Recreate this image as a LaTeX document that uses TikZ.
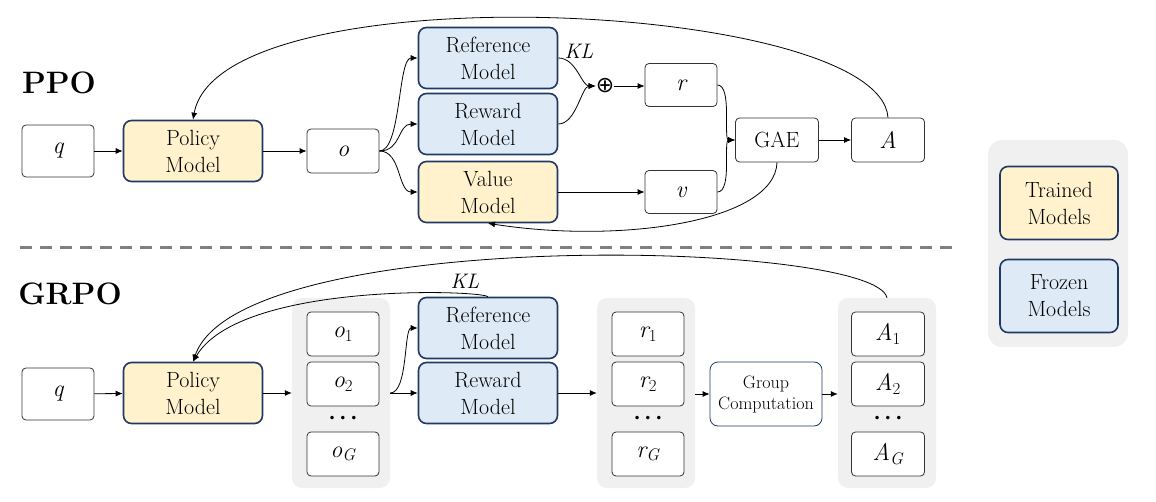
\documentclass[tikz,border=0pt]{standalone}
\usepackage{fontspec}
\newfontfamily\symfnt{DejaVu Sans}
\usetikzlibrary{arrows.meta}
\definecolor{trainedfill}{HTML}{FFF2CC}
\definecolor{frozenfill}{HTML}{DEEAF6}
\definecolor{modelborder}{HTML}{1F3864}
\definecolor{groupfill}{HTML}{F0F0F0}
\definecolor{dashgray}{HTML}{808080}
\definecolor{boxborder}{HTML}{333333}
\tikzset{
  plainbox/.style={draw=boxborder, fill=white, rounded corners=4pt, line width=0.8pt,
    minimum width=72pt, minimum height=44pt, inner sep=0pt, font=\fontsize{24}{28}\selectfont\itshape},
  modelbox/.style={draw=modelborder, line width=1.6pt, rounded corners=8pt,
    minimum width=139pt, minimum height=61pt, inner sep=0pt, align=center, font=\fontsize{22}{27}\selectfont},
  trained/.style={modelbox, fill=trainedfill},
  frozen/.style={modelbox, fill=frozenfill},
  grpbox/.style={fill=groupfill, rounded corners=10pt, inner sep=0pt, minimum width=98pt, minimum height=190pt},
  conn/.style={-{Latex[length=7pt,width=6pt]}, line width=0.8pt},
  title/.style={font=\fontsize{31}{36}\selectfont\bfseries},
  lbl/.style={font=\fontsize{21}{24}\selectfont\itshape},
  dots/.style={font=\fontsize{12}{14}\selectfont\symfnt, inner sep=0pt}
}
\begin{document}
\begin{tikzpicture}[x=1pt,y=-1pt]
\useasboundingbox (0,0) rectangle (1156,502);

% ---------- PPO ----------
\node[title] (ppo) at (59,83) {PPO};
\node[plainbox, minimum height=52pt] (q1) at (58,151) {q};
\node[trained] (pol1) at (193,151) {Policy\\Model};
\node[plainbox] (o1) at (343,151) {o};
\node[frozen] (ref1) at (488,58) {Reference\\Model};
\node[frozen] (rew1) at (488,124) {Reward\\Model};
\node[trained] (val1) at (488,192) {Value\\Model};
\node[font=\fontsize{22}{24}\selectfont\symfnt, inner sep=0pt] (plus) at (605,86) {⊕};
\node[lbl] (kl1) at (579,51) {KL};
\node[plainbox, minimum height=43pt] (r) at (681,85) {r};
\node[plainbox, minimum height=43pt] (v) at (681,192) {v};
\node[plainbox, minimum width=83pt, font=\fontsize{22}{24}\selectfont] (gae) at (777,140) {GAE};
\node[plainbox, minimum width=73pt] (A) at (888,140) {A};

\draw[conn] (q1) -- (pol1);
\draw[conn] (pol1) -- (o1);
\draw[conn] (o1.east) .. controls +(22,0) and +(-20,0) .. (ref1.west);
\draw[conn] (o1.east) .. controls +(22,0) and +(-20,0) .. (rew1.west);
\draw[conn] (o1.east) .. controls +(22,0) and +(-20,0) .. (val1.west);
\draw[conn] (ref1.east) .. controls +(18,0) and +(-14,0) .. (plus.west);
\draw[conn] (rew1.east) .. controls +(18,0) and +(-14,0) .. (plus.west);
\draw[conn] (plus.east) -- (r.west |- plus.east);
\draw[conn] (val1.east) -- (v.west |- val1.east);
\draw[conn] (r.east) .. controls +(15,0) and +(-12,0) .. (gae.west);
\draw[conn] (v.east) .. controls +(15,0) and +(-12,0) .. (gae.west);
\draw[conn] (gae) -- (A);
\draw[conn] (A.north) .. controls (880,0) and (220,-30) .. (pol1.north);
\draw[conn] (gae.south) .. controls (775,222) and (620,244) .. (val1.south);

% ---------- separator ----------
\draw[dashgray, line width=3pt, dash pattern=on 12pt off 8pt] (20,248) -- (958,248);

% ---------- GRPO ----------
\node[title] (grpo) at (70,294) {GRPO};
\node[plainbox, minimum height=52pt] (q2) at (58,394) {q};
\node[trained] (pol2) at (193,393) {Policy\\Model};

\node[grpbox] (og) at (341,393) {};
\node[plainbox] (oa) at (343,334) {o\textsubscript{\upshape 1}};
\node[plainbox] (ob) at (343,384) {o\textsubscript{\upshape 2}};
\node[dots] (od) at (343,419) {• • •};
\node[plainbox] (oc) at (343,454) {o\textsubscript{G}};

\node[frozen] (ref2) at (488,328) {Reference\\Model};
\node[frozen] (rew2) at (488,393) {Reward\\Model};

\node[grpbox] (rg) at (646,393) {};
\node[plainbox] (ra) at (648,334) {r\textsubscript{\upshape 1}};
\node[plainbox] (rb) at (648,384) {r\textsubscript{\upshape 2}};
\node[dots] (rd) at (648,419) {• • •};
\node[plainbox] (rc) at (648,454) {r\textsubscript{G}};

\node[draw=modelborder, line width=0.8pt, fill=white, rounded corners=8pt, minimum width=112pt,
      minimum height=64pt, inner sep=0pt, align=center, font=\fontsize{18}{21}\selectfont] (gc) at (766,394) {Group\\Computation};

\node[grpbox] (ag) at (887,393) {};
\node[plainbox, minimum width=73pt] (Aa) at (888,334) {A\textsubscript{\upshape 1}};
\node[plainbox, minimum width=73pt] (Ab) at (888,384) {A\textsubscript{\upshape 2}};
\node[dots] (Ad) at (888,419) {• • •};
\node[plainbox, minimum width=73pt] (Ac) at (888,454) {A\textsubscript{G}};

\node[lbl] (kl2) at (465,281) {KL};

\draw[conn] (q2) -- (pol2);
\draw[conn] (pol2) -- (og.west |- pol2);
\draw[conn] (og.east |- rew2) .. controls +(18,0) and +(-14,0) .. (ref2.west);
\draw[conn] (og.east |- rew2) -- (rew2.west);
\draw[conn] (rew2) -- (rg.west |- rew2);
\draw[conn] (rg.east |- gc) -- (gc.west);
\draw[conn] (gc.east) -- (ag.west |- gc);
\draw[conn] (ag.north) .. controls (875,240) and (240,225) .. (pol2.north);
\draw[conn] (ref2.north) .. controls (480,290) and (240,282) .. (pol2.north);

% ---------- legend ----------
\node[fill=groupfill, rounded corners=14pt, minimum width=140pt, minimum height=207pt, inner sep=0pt] (leg) at (1058,243.5) {};
\node[trained, minimum width=118pt, minimum height=73pt] (lt) at (1059,203) {Trained\\Models};
\node[frozen, minimum width=118pt, minimum height=73pt] (lf) at (1059,296) {Frozen\\Models};
\end{tikzpicture}
\end{document}
